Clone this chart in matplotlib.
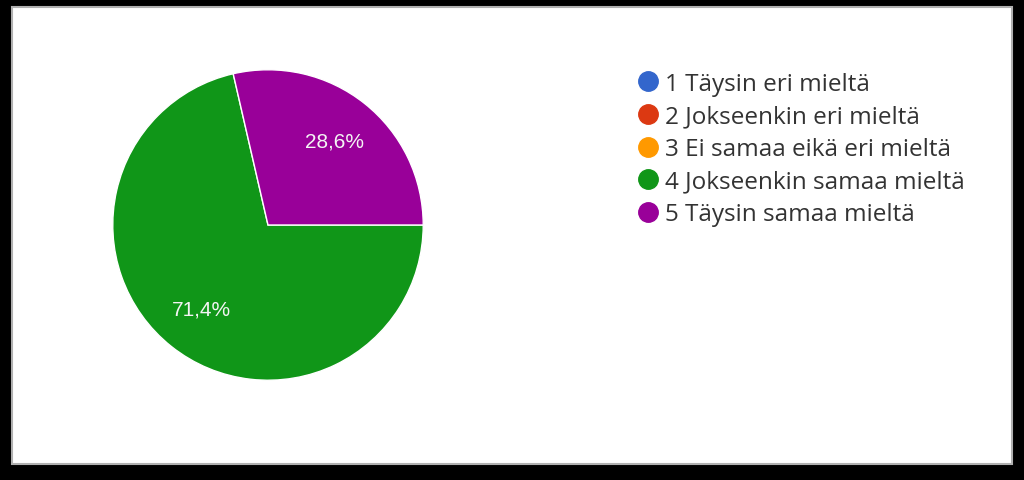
import math
import matplotlib.pyplot as plt
from matplotlib.patches import Rectangle
from matplotlib.lines import Line2D

# vastausvaihtoehdot ja osuudet (%)
labels = ["1 Täysin eri mieltä", "2 Jokseenkin eri mieltä", "3 Ei samaa eikä eri mieltä",
          "4 Jokseenkin samaa mieltä", "5 Täysin samaa mieltä"]
values = [0.0, 0.0, 0.0, 71.4, 28.6]
colors = ["#3366cc", "#dc3912", "#ff9900", "#109618", "#990099"]

W, H = 1024, 481
fig = plt.figure(figsize=(W / 100, H / 100), dpi=100, facecolor="black")

# valkoinen kortti mustalla taustalla
fig.patches.append(Rectangle((12 / W, (H - 465) / H), 1000 / W, 457 / H,
                             transform=fig.transFigure, facecolor="white",
                             edgecolor="#b0b0b0", linewidth=1.5, zorder=-5))

# piirakka: keskipiste (268, 226), säde 156 px
cx, cy, r = 268, 226, 156
ax = fig.add_axes([(cx - r) / W, (H - cy - r) / H, 2 * r / W, 2 * r / H])
ax.set_zorder(2)
ax.patch.set_visible(False)

wedges, texts = ax.pie(values, colors=colors, radius=1, startangle=0, counterclock=False,
                       wedgeprops=dict(edgecolor="white", linewidth=1))
ax.set_xlim(-1.005, 1.005)
ax.set_ylim(-1.005, 1.005)
ax.axis("off")

ang = 0.0
for v in values:
    if v > 0:
        mid = math.radians(ang - v / 100 * 360 / 2)
        ax.text(0.69 * math.cos(mid), 0.69 * math.sin(mid), f"{v:.1f}".replace(".", ",") + "%",
                ha="center", va="center", color="#f4f4f4", fontsize=15,
                family="Liberation Sans")
    ang -= v / 100 * 360

handles = [Line2D([], [], marker="o", linestyle="", markersize=14, color=c) for c in colors]
fig.legend(handles, labels, loc="upper left", bbox_to_anchor=(638 / W, 1 - 73 / H),
           frameon=False, prop=dict(family="Open Sans", size=17.5), labelcolor="#333333",
           handlelength=0.8, handletextpad=0.3, labelspacing=0.35, borderaxespad=0,
           borderpad=0)

fig.savefig("out.png", dpi=100, facecolor="black")
